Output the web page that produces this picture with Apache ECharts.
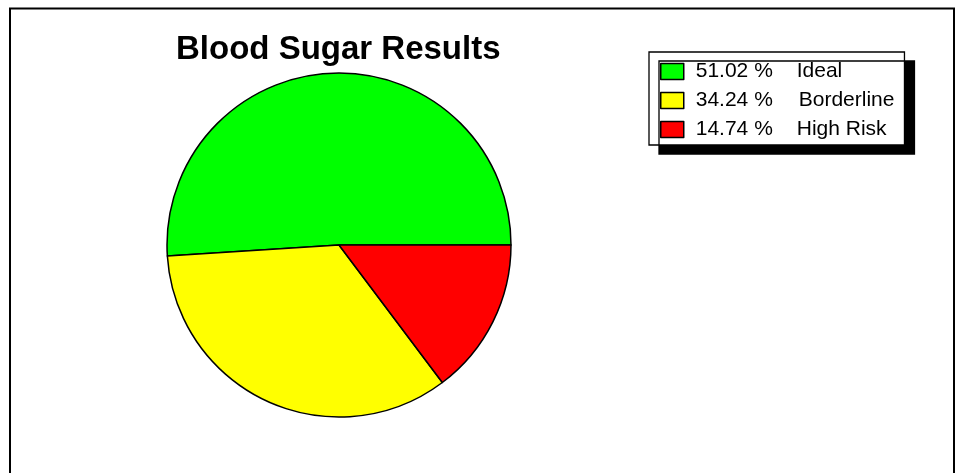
<!DOCTYPE html>
<html>
<head>
<meta charset="utf-8">
<script src="https://cdn.jsdelivr.net/npm/echarts@6/dist/echarts.min.js"></script>
<style>
html,body{margin:0;padding:0;background:#fff;}
#chart{width:956px;height:473px;}
</style>
</head>
<body>
<div id="chart"></div>
<script>
const categories = ['Ideal', 'Borderline', 'High Risk'];
const values = [51.02, 34.24, 14.74];
const colors = ['#00ff00', '#ffff00', '#ff0000'];

const chart = echarts.init(document.getElementById('chart'), null, {renderer: 'canvas'});
const FONT = '"Liberation Sans", Arial, sans-serif';

chart.setOption({
  animation: false,
  backgroundColor: '#ffffff',
  title: {
    text: 'Blood Sugar Results',
    left: 176,
    top: 33,
    padding: 0,
    textStyle: {fontFamily: FONT, fontWeight: 'bold', fontSize: 33, color: '#000'}
  },
  legend: {
    orient: 'vertical',
    left: 649,
    top: 52,
    padding: [9, 10, 5, 11],
    itemGap: 8,
    itemWidth: 23,
    itemHeight: 16,
    itemTextGap: 12,
    backgroundColor: '#ffffff',
    borderColor: '#000',
    borderWidth: 1.3,
    shadowColor: '#000',
    shadowBlur: 0,
    shadowOffsetX: 10,
    shadowOffsetY: 9,
    icon: 'rect',
    itemStyle: {borderColor: '#000', borderWidth: 1.5},
    formatter: function (name) {
      const i = categories.indexOf(name);
      return '{a|' + values[i].toFixed(2) + ' %}{' + (name === 'Borderline' ? 'c' : 'b') + '|' + name + '}';
    },
    textStyle: {
      fontFamily: FONT,
      fontSize: 21,
      color: '#000',
      rich: {
        a: {fontFamily: FONT, fontSize: 21, width: 101, height: 21, padding: [0, 0, 0, 7], color: '#000'},
        b: {fontFamily: FONT, fontSize: 21, height: 21, color: '#000'},
        c: {fontFamily: FONT, fontSize: 21, height: 21, padding: [0, 0, 0, 2], color: '#000'}
      }
    },
    data: categories
  },
  graphic: [{
    type: 'rect',
    shape: {x: 10, y: 8.5, width: 944, height: 480},
    style: {fill: 'none', stroke: '#000', lineWidth: 2},
    z: 100
  }],
  series: [{
    type: 'pie',
    center: [339, 245],
    radius: 172,
    startAngle: 0,
    clockwise: false,
    label: {show: false},
    labelLine: {show: false},
    emphasis: {disabled: true},
    itemStyle: {borderColor: '#000', borderWidth: 1.5},
    data: categories.map((c, i) => ({name: c, value: values[i], itemStyle: {color: colors[i]}}))
  }]
});
</script>
</body>
</html>
